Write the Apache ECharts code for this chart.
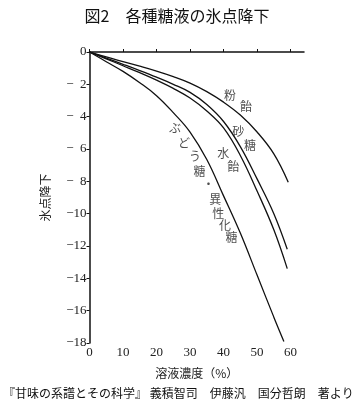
<!DOCTYPE html>
<html>
<head>
<meta charset="utf-8">
<script src="https://cdn.jsdelivr.net/npm/echarts@6/dist/echarts.min.js"></script>
<style>
  html, body { margin: 0; padding: 0; background: #fff; }
  #chart { width: 353px; height: 406px; }
</style>
</head>
<body>
<div id="chart"></div>
<script>
var chartDom = document.getElementById('chart');
var myChart = echarts.init(chartDom);

// 濃度 (%) と 氷点降下 (℃, 負の値)
var konaameX = [0, 5, 10, 15, 20, 25, 30, 35, 40, 45, 50, 55, 59.3];
var konaameY = [0, -0.3, -0.6, -0.88, -1.18, -1.52, -1.92, -2.45, -3.1, -3.9, -4.95, -6.3, -8.05];

var satouX = [0, 5, 10, 15, 20, 25, 30, 35, 40, 45, 50, 55, 59];
var satouY = [0, -0.38, -0.76, -1.15, -1.56, -2.0, -2.5, -3.25, -4.3, -5.85, -7.85, -10.0, -12.2];

var mizuameX = [0, 5, 10, 15, 20, 25, 30, 35, 40, 45, 50, 55, 59];
var mizuameY = [0, -0.42, -0.85, -1.28, -1.74, -2.25, -2.85, -3.65, -4.7, -6.4, -8.6, -11.0, -13.4];

var budoutouX = [0, 5, 10, 15, 20, 25, 30, 35, 40, 45, 50, 55, 58];
var budoutouY = [0, -0.6, -1.2, -1.9, -2.7, -3.75, -4.95, -6.65, -8.9, -11.2, -13.8, -16.4, -17.9];

var xTicks = [0, 10, 20, 30, 40, 50, 60];

// 曲線に沿った文字ラベル [濃度, 降下, 文字]
var curveLabels = [
  [41.9, -2.66, '粉'], [46.7, -3.38, '飴'],
  [44.4, -4.93, '砂'], [47.9, -5.81, '糖'],
  [39.9, -6.26, '水'], [42.9, -7.09, '飴'],
  [25.5, -4.72, 'ぶ'], [28.2, -5.64, 'ど'], [31.5, -6.47, 'う'], [32.8, -7.4, '糖'],
  [35.5, -8.22, '・'],
  [37.5, -9.15, '異'], [38.4, -9.97, '性'], [40.4, -10.7, '化'], [42.4, -11.5, '糖']
];

function pairs(xs, ys) {
  return xs.map(function (x, i) { return [x, ys[i]]; });
}

function curve(name, xs, ys) {
  return {
    name: name,
    type: 'line',
    data: pairs(xs, ys),
    smooth: 0.4,
    showSymbol: false,
    lineStyle: { color: '#111', width: 1.3 },
    silent: true
  };
}

var serif = '"Liberation Serif", "DejaVu Serif", serif';
var cjk = '"Noto Sans CJK JP", sans-serif';

var option = {
  animation: false,
  grid: { left: 89.5, right: 49, top: 52, bottom: 63 },
  xAxis: {
    type: 'value',
    min: 0,
    max: 64,
    interval: 10,
    name: '溶液濃度（%）',
    nameLocation: 'middle',
    nameGap: 24,
    nameTextStyle: { fontFamily: cjk, fontSize: 12, color: '#222' },
    splitLine: { show: false },
    axisLine: { lineStyle: { color: '#111', width: 1.5 } },
    axisTick: { inside: true, length: 3, lineStyle: { color: '#111' }, customValues: xTicks },
    axisLabel: { customValues: xTicks, fontFamily: serif, fontSize: 13, color: '#222', margin: 3 }
  },
  yAxis: {
    type: 'value',
    min: -18,
    max: 0,
    interval: 2,
    name: '氷点降下',
    nameLocation: 'middle',
    nameGap: 38,
    nameTextStyle: { fontFamily: cjk, fontSize: 12, color: '#222' },
    splitLine: { show: false },
    axisLine: { show: true, lineStyle: { color: '#111', width: 1.5 } },
    axisTick: { length: 3, lineStyle: { color: '#111' } },
    axisLabel: {
      fontFamily: serif, fontSize: 13, color: '#222', margin: 3,
      formatter: function (v) {
        if (v === 0) return '0';
        var a = Math.abs(v);
        return a < 10 ? '\u2212  ' + a : '\u2212' + a;
      }
    }
  },
  series: [
    curve('粉飴', konaameX, konaameY),
    curve('砂糖', satouX, satouY),
    curve('水飴', mizuameX, mizuameY),
    curve('ぶどう糖・異性化糖', budoutouX, budoutouY),
    {
      type: 'scatter',
      symbolSize: 0,
      silent: true,
      data: curveLabels,
      label: {
        show: true,
        position: 'inside',
        formatter: function (p) { return p.data[2]; },
        fontFamily: cjk,
        fontSize: 12,
        color: '#222'
      }
    }
  ],
  graphic: [
    {
      type: 'text',
      x: 177, y: 16,
      style: {
        text: '図2　各種糖液の氷点降下',
        font: '16px "Noto Sans CJK JP", sans-serif',
        fill: '#111',
        align: 'center',
        verticalAlign: 'middle'
      }
    },
    {
      type: 'text',
      x: 3, y: 393,
      style: {
        text: '『甘味の系譜とその科学』 義積智司　伊藤汎　国分哲朗　著より',
        font: '12px "Noto Sans CJK JP", sans-serif',
        fill: '#111',
        align: 'left',
        verticalAlign: 'middle'
      }
    }
  ]
};

myChart.setOption(option);
window.addEventListener('resize', () => myChart.resize());
</script>
</body>
</html>
